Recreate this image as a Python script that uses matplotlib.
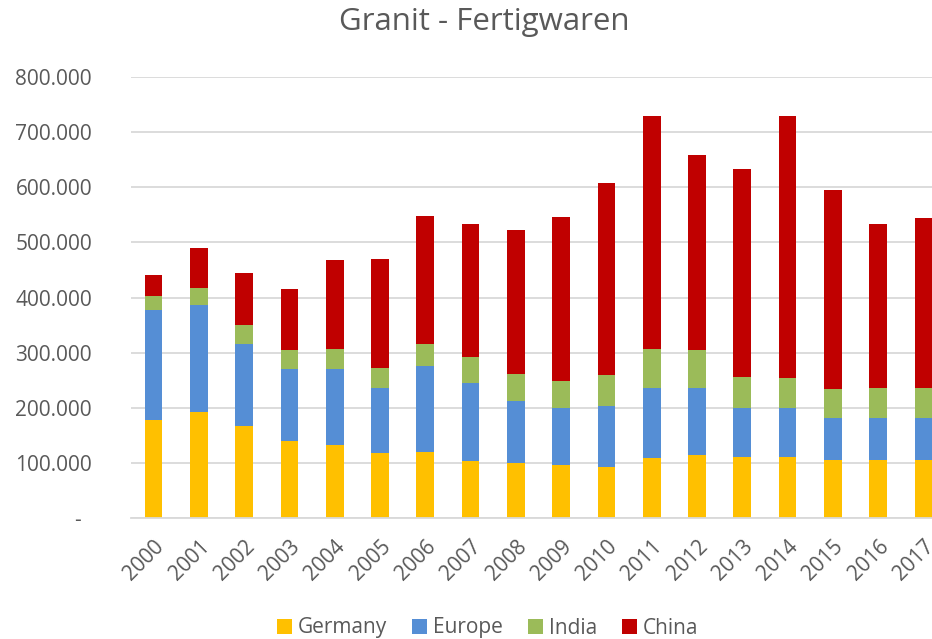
import numpy as np
import matplotlib
matplotlib.use('Agg')
import matplotlib.pyplot as plt

years = [str(y) for y in range(2000, 2018)]
germany = [178, 193, 167, 140, 132, 118, 120, 104, 100, 96, 92, 109, 115, 111, 111, 105, 105, 106]
europe = [200, 194, 149, 130, 138, 117, 155, 141, 113, 103, 111, 127, 120, 89, 88, 77, 77, 76]
india = [25, 30, 34, 34, 37, 37, 41, 47, 48, 50, 57, 70, 69, 56, 55, 52, 54, 53]
china = [38, 73, 94, 112, 161, 198, 232, 241, 261, 297, 347, 424, 354, 377, 476, 361, 297, 310]
series_names = ['Germany', 'Europe', 'India', 'China']
colors = ['#FFC000', '#558ED5', '#9BBB59', '#C00000']
yticks = [0, 100, 200, 300, 400, 500, 600, 700, 800]

plt.rcParams['font.family'] = ['Open Sans', 'DejaVu Sans']
txt = '#595959'

fig = plt.figure(figsize=(9.32, 6.39), dpi=100)
ax = fig.add_axes([131 / 932, 121 / 639, 815 / 932, 441 / 639])

x = np.arange(len(years))
bottom = np.zeros(len(years))
for name, vals, c in zip(series_names, [germany, europe, india, china], colors):
    vals = np.array(vals, dtype=float)
    ax.bar(x, vals, 0.39, bottom=bottom, color=c, label=name, zorder=2)
    bottom += vals

ax.set_xlim(-0.5, len(years) - 0.5)
ax.set_ylim(0, 800)
ax.set_yticks(yticks)
ax.set_yticklabels(['-  ' if v == 0 else f'{v},000'.replace(',', '.') for v in yticks])
ax.set_xticks(x)
ax.set_xticklabels(years, rotation=45, ha='right', rotation_mode='anchor')
ax.tick_params(axis='both', length=0, labelsize=15, colors=txt)
ax.tick_params(axis='y', pad=28)
ax.tick_params(axis='x', pad=13)
ax.grid(axis='y', color='#D9D9D9', lw=1.3, zorder=0)
for s in ['top', 'right', 'left']:
    ax.spines[s].set_visible(False)
ax.spines['bottom'].set_color('#D9D9D9')
ax.spines['bottom'].set_linewidth(1.3)

fig.text(484 / 932, 1 - 22 / 639, 'Granit - Fertigwaren', ha='center', va='center',
         fontsize=22.5, color=txt)

fig.legend(loc='center', bbox_to_anchor=(488 / 932, 1 - 628 / 639), ncol=4, frameon=False,
           fontsize=15, labelcolor=txt, handlelength=0.7, handleheight=0.7,
           handletextpad=0.3, columnspacing=1.2)

fig.savefig('out.png', dpi=100)
